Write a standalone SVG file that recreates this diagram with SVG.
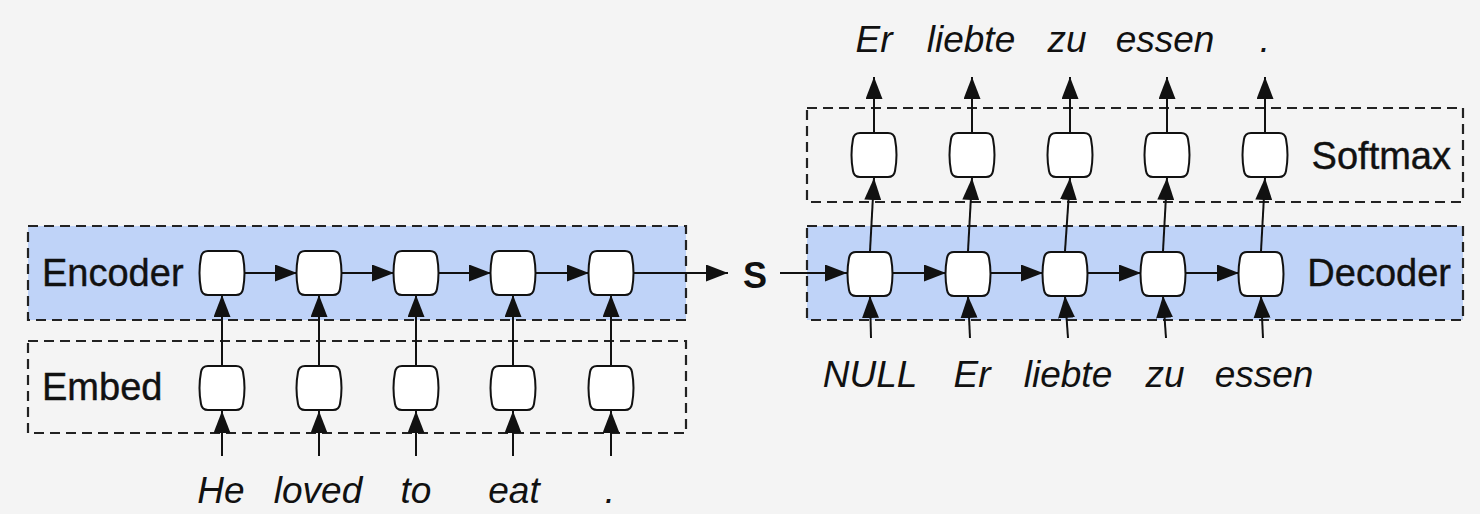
<svg xmlns="http://www.w3.org/2000/svg" xmlns:xlink="http://www.w3.org/1999/xlink" width="1480" height="514" viewBox="0 0 1480 514">
<style>
.bg{fill:#f4f4f4}
.box{stroke:#222;stroke-width:2.2;stroke-dasharray:10 6;fill:none}
.blue{fill:#bfd3f8}
.cell{fill:#fff;stroke:#111;stroke-width:2}
.ln{stroke:#111;stroke-width:2;fill:none;marker-end:url(#ah)}
.lbl{font-family:"Liberation Sans",Arial,sans-serif;font-size:38px;fill:#111;stroke:#111;stroke-width:0.4}
.it{font-family:"Liberation Sans",Arial,sans-serif;font-size:37px;font-style:italic;fill:#111;text-anchor:middle}
.s{font-family:"Liberation Sans",Arial,sans-serif;font-size:36px;font-weight:bold;fill:#111;text-anchor:middle}
</style>
<defs>
<marker id="ah" viewBox="0 0 22 17" refX="22" refY="8.5" markerWidth="22" markerHeight="17" markerUnits="userSpaceOnUse" orient="auto">
<path d="M0,0 L22,8.5 L0,17 Z" fill="#111"/>
</marker>
<path id="cell" class="cell" d="M-14,-22 H14 Q20,-22 21,-16 Q24,0 21,16 Q20,22 14,22 H-14 Q-20,22 -21,16 Q-24,0 -21,-16 Q-20,-22 -14,-22 Z"/>
</defs>
<rect class="bg" x="0" y="0" width="1480" height="514"/>

<g id="encoder">
<rect class="blue" x="28" y="226" width="658" height="94"/>
<rect class="box" x="28" y="226" width="658" height="94"/>
<text class="lbl" x="42" y="286">Encoder</text>
</g>
<g id="embed">
<rect class="box" x="28" y="341" width="658" height="92"/>
<text class="lbl" x="42" y="400">Embed</text>
</g>
<g id="decoder">
<rect class="blue" x="807" y="226" width="656" height="94"/>
<rect class="box" x="807" y="226" width="656" height="94"/>
<text class="lbl" x="1451" y="286" text-anchor="end">Decoder</text>
</g>
<g id="softmax">
<rect class="box" x="807" y="108" width="656" height="94"/>
<text class="lbl" x="1451" y="169" text-anchor="end">Softmax</text>
</g>

<g id="connectors">
<line class="ln" x1="222" y1="456" x2="222" y2="411"/>
<line class="ln" x1="319" y1="456" x2="319" y2="411"/>
<line class="ln" x1="416" y1="456" x2="416" y2="411"/>
<line class="ln" x1="513" y1="456" x2="513" y2="411"/>
<line class="ln" x1="611" y1="456" x2="611" y2="411"/>
<line class="ln" x1="222" y1="365" x2="222" y2="295"/>
<line class="ln" x1="319" y1="365" x2="319" y2="295"/>
<line class="ln" x1="416" y1="365" x2="416" y2="295"/>
<line class="ln" x1="513" y1="365" x2="513" y2="295"/>
<line class="ln" x1="611" y1="365" x2="611" y2="295"/>
<line class="ln" x1="244" y1="273" x2="297" y2="273"/>
<line class="ln" x1="341" y1="273" x2="394" y2="273"/>
<line class="ln" x1="438" y1="273" x2="491" y2="273"/>
<line class="ln" x1="535" y1="273" x2="589" y2="273"/>
<line class="ln" x1="633" y1="273" x2="728" y2="273"/>
<line class="ln" x1="780" y1="273" x2="847" y2="273"/>
<line class="ln" x1="892" y1="273" x2="946" y2="273"/>
<line class="ln" x1="990" y1="273" x2="1043" y2="273"/>
<line class="ln" x1="1087" y1="273" x2="1141" y2="273"/>
<line class="ln" x1="1185" y1="273" x2="1239" y2="273"/>
<line class="ln" x1="871" y1="338" x2="870" y2="296"/>
<line class="ln" x1="970" y1="338" x2="968" y2="296"/>
<line class="ln" x1="1068" y1="338" x2="1065" y2="296"/>
<line class="ln" x1="1166" y1="338" x2="1163" y2="296"/>
<line class="ln" x1="1263" y1="338" x2="1261" y2="296"/>
<line class="ln" x1="870" y1="251" x2="874" y2="178"/>
<line class="ln" x1="968" y1="251" x2="972" y2="178"/>
<line class="ln" x1="1065" y1="251" x2="1070" y2="178"/>
<line class="ln" x1="1163" y1="251" x2="1167" y2="178"/>
<line class="ln" x1="1261" y1="251" x2="1265" y2="178"/>
<line class="ln" x1="874" y1="132" x2="874" y2="77"/>
<line class="ln" x1="972" y1="132" x2="972" y2="77"/>
<line class="ln" x1="1070" y1="132" x2="1070" y2="77"/>
<line class="ln" x1="1167" y1="132" x2="1167" y2="77"/>
<line class="ln" x1="1265" y1="132" x2="1265" y2="77"/>
</g>

<g id="enc-cells">
<use xlink:href="#cell" x="222" y="273"/>
<use xlink:href="#cell" x="319" y="273"/>
<use xlink:href="#cell" x="416" y="273"/>
<use xlink:href="#cell" x="513" y="273"/>
<use xlink:href="#cell" x="611" y="273"/>
</g>
<g id="emb-cells">
<use xlink:href="#cell" x="222" y="388"/>
<use xlink:href="#cell" x="319" y="388"/>
<use xlink:href="#cell" x="416" y="388"/>
<use xlink:href="#cell" x="513" y="388"/>
<use xlink:href="#cell" x="611" y="388"/>
</g>
<g id="dec-cells">
<use xlink:href="#cell" x="870" y="274"/>
<use xlink:href="#cell" x="968" y="274"/>
<use xlink:href="#cell" x="1065" y="274"/>
<use xlink:href="#cell" x="1163" y="274"/>
<use xlink:href="#cell" x="1261" y="274"/>
</g>
<g id="soft-cells">
<use xlink:href="#cell" x="874" y="155"/>
<use xlink:href="#cell" x="972" y="155"/>
<use xlink:href="#cell" x="1070" y="155"/>
<use xlink:href="#cell" x="1167" y="155"/>
<use xlink:href="#cell" x="1265" y="155"/>
</g>

<g id="state">
<text class="s" x="755" y="288">S</text>
</g>

<g id="input-words">
<text class="it" x="221" y="503">He</text>
<text class="it" x="318" y="503">loved</text>
<text class="it" x="416" y="503">to</text>
<text class="it" x="514" y="503">eat</text>
<text class="it" x="610" y="503">.</text>
</g>
<g id="decoder-inputs">
<text class="it" x="870" y="387">NULL</text>
<text class="it" x="972" y="387">Er</text>
<text class="it" x="1068" y="387">liebte</text>
<text class="it" x="1165" y="387">zu</text>
<text class="it" x="1264" y="387">essen</text>
</g>
<g id="outputs">
<text class="it" x="874" y="52">Er</text>
<text class="it" x="971" y="52">liebte</text>
<text class="it" x="1067" y="52">zu</text>
<text class="it" x="1165" y="52">essen</text>
<text class="it" x="1265" y="52">.</text>
</g>
</svg>
